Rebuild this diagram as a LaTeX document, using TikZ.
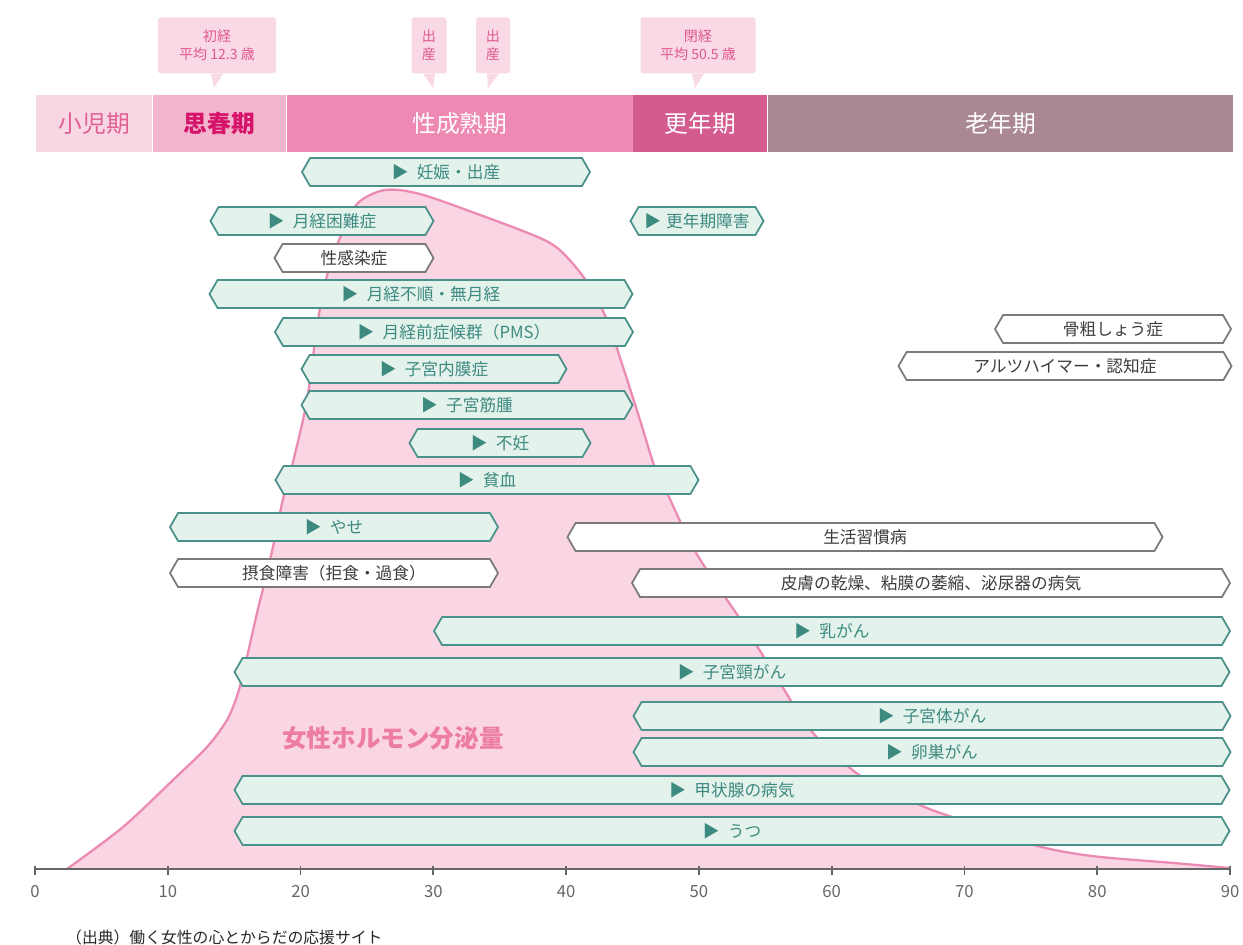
\documentclass[tikz,border=0pt]{standalone}
\usepackage{fontspec}
\setmainfont{Noto Sans CJK JP}
\usetikzlibrary{shapes.symbols,positioning}
\definecolor{childbg}{HTML}{F8D7E4}
\definecolor{childtx}{HTML}{E0608F}
\definecolor{pubbg}{HTML}{F3B5CD}
\definecolor{pubtx}{HTML}{D6136B}
\definecolor{maturebg}{HTML}{EE89B3}
\definecolor{menobg}{HTML}{D35B8E}
\definecolor{seniorbg}{HTML}{AA8795}
\definecolor{callfill}{HTML}{F9D9E5}
\definecolor{calltext}{HTML}{E0578F}
\definecolor{curvefill}{HTML}{FAD5E3}
\definecolor{curveline}{HTML}{EB8BB3}
\definecolor{barfill}{HTML}{E4F2EC}
\definecolor{barline}{HTML}{4A9189}
\definecolor{bartext}{HTML}{3D8A80}
\definecolor{grayline}{HTML}{7A7A7A}
\definecolor{graytext}{HTML}{3D3D3D}
\definecolor{axisgray}{HTML}{666666}

\begin{document}
\begin{tikzpicture}[x=0.02cm,y=-0.02cm,
  lifebar/.style={signal,signal to=west and east,signal pointer angle=120,minimum height=0.56cm,inner sep=0pt,line width=1pt,font=\fontsize{9.5}{10}\selectfont},
  ill/.style={lifebar,draw=barline,fill=barfill,text=bartext},
  risk/.style={lifebar,draw=grayline,fill=white,text=graytext},
  barw/.style={minimum width=#1*0.02cm},
  stage/.style={rectangle,minimum height=57*0.02cm,inner sep=0pt,font=\fontsize{13.5}{14}\selectfont},
  callout/.style={rectangle,rounded corners=1.5pt,fill=callfill,text=calltext,align=center,minimum height=56*0.02cm,inner sep=0pt,font=\fontsize{8}{10.5}\selectfont}]
  \useasboundingbox (0,0) rectangle (1243,944);

  % life stages
  \node[stage,fill=childbg,text=childtx,minimum width=116*0.02cm,anchor=north west] (child) at (36,95) {小児期};
  \node[stage,fill=pubbg,text=pubtx,font=\fontsize{13.5}{14}\selectfont\bfseries,minimum width=133*0.02cm,right=0pt of child] (puberty) {思春期};
  \node[stage,fill=maturebg,text=white,minimum width=346*0.02cm,right=0pt of puberty] (mature) {性成熟期};
  \node[stage,fill=menobg,text=white,minimum width=134*0.02cm,right=0pt of mature] (meno) {更年期};
  \node[stage,fill=seniorbg,text=white,minimum width=465*0.02cm,right=0pt of meno] (senior) {老年期};

  % callouts
  \node[callout,minimum width=118*0.02cm,anchor=north] (menarche) at (217,17) {初経\\平均 12.3 歳};
  \node[callout,minimum width=35*0.02cm,anchor=north] (birth1) at (429,17) {出\\産};
  \node[callout,minimum width=34*0.02cm,anchor=north] (birth2) at (493,17) {出\\産};
  \node[callout,minimum width=115*0.02cm,anchor=north] (menopause) at (698,17) {閉経\\平均 50.5 歳};
  \coordinate (tip1) at (214,88);
  \coordinate (tip2) at (433,88);
  \coordinate (tip3) at (488,88);
  \coordinate (tip4) at (695,88);
  \fill[callfill] ([xshift=-6*0.02cm]menarche.south) -- (tip1) -- ([xshift=6*0.02cm]menarche.south) -- cycle;
  \fill[callfill] ([xshift=-6*0.02cm]birth1.south) -- (tip2) -- ([xshift=6*0.02cm]birth1.south) -- cycle;
  \fill[callfill] ([xshift=-6*0.02cm]birth2.south) -- (tip3) -- ([xshift=6*0.02cm]birth2.south) -- cycle;
  \fill[callfill] ([xshift=-6*0.02cm]menopause.south) -- (tip4) -- ([xshift=6*0.02cm]menopause.south) -- cycle;

  % hormone curve
  \fill[curvefill] plot[smooth,tension=0.5] coordinates {(67,869) (123,827) (173,780) (207,747) (227,720) (238,693) (247,657) (257,613) (264,585) (273,547) (283,499) (293,462) (307,400) (318,320) (328,272) (342,233) (358,203) (385,190) (420,194) (483,216) (540,238) (562,252) (587,282) (607,320) (624,370) (640,420) (655,468) (668,495) (690,542) (710,575) (742,622) (780,683) (813,733) (862,777) (920,805) (952,817) (1034,845) (1092,856) (1174,863) (1230,868)} -- cycle;
  \draw[curveline,line width=1.3pt] plot[smooth,tension=0.5] coordinates {(67,869) (123,827) (173,780) (207,747) (227,720) (238,693) (247,657) (257,613) (264,585) (273,547) (283,499) (293,462) (307,400) (318,320) (328,272) (342,233) (358,203) (385,190) (420,194) (483,216) (540,238) (562,252) (587,282) (607,320) (624,370) (640,420) (655,468) (668,495) (690,542) (710,575) (742,622) (780,683) (813,733) (862,777) (920,805) (952,817) (1034,845) (1092,856) (1174,863) (1230,868)};
  \node[text=curveline!90!red,font=\fontsize{14}{15}\selectfont\bfseries] (hormone) at (393,738) {女性ホルモン分泌量};

  % conditions
  \node[ill,barw=288] (pregnancy) at (446,172) {▶\hspace{0.5em}妊娠・出産};
  \node[ill,barw=223] (dysmenorrhea) at (322,221) {▶\hspace{0.5em}月経困難症};
  \node[ill,barw=133] (climacteric) at (697,221) {▶\hspace{0.3em}更年期障害};
  \node[risk,barw=159] (std) at (354,258) {性感染症};
  \node[ill,barw=423] (irregular) at (421,294) {▶\hspace{0.5em}月経不順・無月経};
  \node[ill,barw=358] (pms) at (454,332) {▶\hspace{0.5em}月経前症候群（PMS）};
  \node[ill,barw=265] (endometriosis) at (434,369) {▶\hspace{0.5em}子宮内膜症};
  \node[ill,barw=331] (myoma) at (467,405) {▶\hspace{0.5em}子宮筋腫};
  \node[ill,barw=181] (infertility) at (500,443) {▶\hspace{0.5em}不妊};
  \node[ill,barw=423] (anemia) at (487,480) {▶\hspace{0.5em}貧血};
  \node[ill,barw=328] (thin) at (334,527) {▶\hspace{0.5em}やせ};
  \node[risk,barw=328] (eating) at (334,573) {摂食障害（拒食・過食）};
  \node[risk,barw=595] (lifestyle) at (865,537) {生活習慣病};
  \node[risk,barw=598] (skin) at (931,583) {皮膚の乾燥、粘膜の萎縮、泌尿器の病気};
  \node[risk,barw=236] (osteo) at (1113,329) {骨粗しょう症};
  \node[risk,barw=333] (dementia) at (1065,366) {アルツハイマー・認知症};
  \node[ill,barw=796] (breast) at (832,631) {▶\hspace{0.5em}乳がん};
  \node[ill,barw=995] (cervical) at (732,672) {▶\hspace{0.5em}子宮頸がん};
  \node[ill,barw=597] (uterine) at (932,716) {▶\hspace{0.5em}子宮体がん};
  \node[ill,barw=597] (ovarian) at (932,752) {▶\hspace{0.5em}卵巣がん};
  \node[ill,barw=995] (thyroid) at (732,790) {▶\hspace{0.5em}甲状腺の病気};
  \node[ill,barw=995] (depression) at (732,831) {▶\hspace{0.5em}うつ};

  % age axis
  \coordinate (age0) at (35,869);
  \coordinate (age90) at (1230,869);
  \draw[axisgray,line width=1.2pt] (age0) -- (age90);
  \foreach \a in {0,10,...,90}
    \draw[axisgray,line width=1pt] ({35+13.278*\a},866) -- ++(0,9) node[below=2pt,text=axisgray,font=\fontsize{9.5}{10}\selectfont] (t\a) {\a};

  \node[anchor=west,text=black!85,font=\fontsize{9}{10}\selectfont] (source) at (60,937) {（出典）働く女性の心とからだの応援サイト};
\end{tikzpicture}
\end{document}
